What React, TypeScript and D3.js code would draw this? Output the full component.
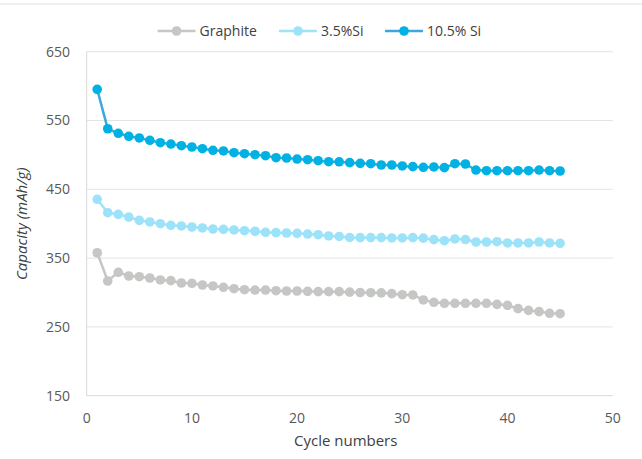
import * as d3 from 'd3';

const cycles = d3.range(1, 46);

const graphite = [
  357.8, 316.7, 329.4, 324, 323, 321.1, 318.2, 317.2, 313.8, 313.4,
  310.9, 309.5, 307.6, 305.5, 304.1, 303.6, 303.6, 302.6, 302.2, 302.2,
  301.7, 301.2, 301.2, 301.2, 300.5, 300, 299.7, 299.5, 298.3, 296.8,
  296.4, 289.2, 285.8, 284.3, 284.3, 284.3, 284.3, 284.3, 282.8, 281.4,
  276.5, 274, 272.2, 269.8, 269.2,
];

const si35 = [
  435.5, 416, 413.6, 409.7, 404.9, 402.5, 400, 397.7, 396.7, 395.2,
  393.8, 392.3, 391.9, 390.9, 389.8, 389, 387.5, 387, 386.5, 386,
  385, 384, 382.2, 381.5, 380, 379.7, 379.7, 379.7, 379.3, 379.3,
  379.7, 379, 376.8, 375.3, 377.8, 377, 373.4, 373.4, 373.8, 372,
  372, 372, 373.4, 372, 371.5,
];

const si105 = [
  595.3, 538, 531.4, 527, 524.6, 521.2, 517.7, 515.8, 513.4, 511.5,
  509, 506.7, 505.7, 503.2, 501.7, 500.3, 498.8, 495.9, 495.5, 494,
  493, 491.6, 490.1, 490, 488.7, 487.7, 487.2, 485.3, 485.3, 483.9,
  482.9, 482, 482.5, 481.5, 487.2, 486.8, 478, 477, 477, 477,
  477, 477, 478, 477, 476.6,
];

const seriesNames = ['Graphite', '3.5%Si', '10.5% Si'];
const xTicks = [0, 10, 20, 30, 40, 50];
const yTicks = [150, 250, 350, 450, 550, 650];

const W = 642;
const H = 459;
const left = 86.7;
const right = 612.7;
const top = 51.7;
const bottom = 395.7;

const font = '"Open Sans", "DejaVu Sans", sans-serif';

const styles = [
  { line: '#C4C7C3', dot: '#C4C7C3' },
  { line: '#9EE3F8', dot: '#9CE3F9' },
  { line: '#3BA9DC', dot: '#00B2E3' },
];

const App = () => {
  const x = d3.scaleLinear().domain([0, 50]).range([left, right]);
  const y = d3.scaleLinear().domain([150, 650]).range([bottom, top]);

  const data = [graphite, si35, si105];
  const line = d3
    .line<number>()
    .x((_, i) => x(cycles[i]))
    .y((d) => y(d));

  // legend positions along the top
  const legendX = [157.6, 279, 385];

  return (
    <svg
      width={W}
      height={H}
      style={{ position: 'absolute', left: 0, top: 0, background: '#fff' }}
      fontFamily={font}
    >
      <line x1={0} x2={W} y1={4} y2={4} stroke='#EBEBEB' strokeWidth={1.5} />

      {/* grid */}
      {yTicks.slice(1).map((t) => (
        <line key={t} x1={left} x2={right} y1={y(t)} y2={y(t)} stroke='#E3E3E3' strokeWidth={1} />
      ))}
      <line x1={left} x2={right} y1={y(150)} y2={y(150)} stroke='#D9D9D9' strokeWidth={1} />
      <line x1={left} x2={left} y1={top} y2={bottom} stroke='#D9D9D9' strokeWidth={1} />

      {/* tick labels */}
      {yTicks.map((t) => (
        <text key={t} x={70} y={y(t)} dy='0.35em' textAnchor='end' fontSize={14} fill='#595959'>
          {t}
        </text>
      ))}
      {xTicks.map((t) => (
        <text key={t} x={x(t)} y={418} dy='0.35em' textAnchor='middle' fontSize={14} fill='#595959'>
          {t}
        </text>
      ))}

      {/* axis titles */}
      <text
        transform={`translate(22,${(top + bottom) / 2}) rotate(-90)`}
        textAnchor='middle'
        dy='0.35em'
        fontSize={15}
        fontStyle='italic'
        fill='#404040'
      >
        Capacity (mAh/g)
      </text>
      <text x={(left + right) / 2 - 4} y={441} textAnchor='middle' dy='0.35em' fontSize={15} fill='#404040'>
        Cycle numbers
      </text>

      {/* series */}
      {data.map((s, k) => (
        <g key={seriesNames[k]}>
          <path d={line(s) ?? ''} fill='none' stroke={styles[k].line} strokeWidth={2.5} />
          {s.map((v, i) => (
            <circle key={i} cx={x(cycles[i])} cy={y(v)} r={4.8} fill={styles[k].dot} />
          ))}
        </g>
      ))}

      {/* legend */}
      {seriesNames.map((n, k) => (
        <g key={n} transform={`translate(${legendX[k]},31)`}>
          <line x1={0} x2={38} y1={0} y2={0} stroke={styles[k].line} strokeWidth={2.5} />
          <circle cx={19} cy={0} r={4.8} fill={styles[k].dot} />
          <text x={42} y={0} dy='0.35em' fontSize={14} fill='#404040'>
            {n}
          </text>
        </g>
      ))}
    </svg>
  );
};

export default App;
